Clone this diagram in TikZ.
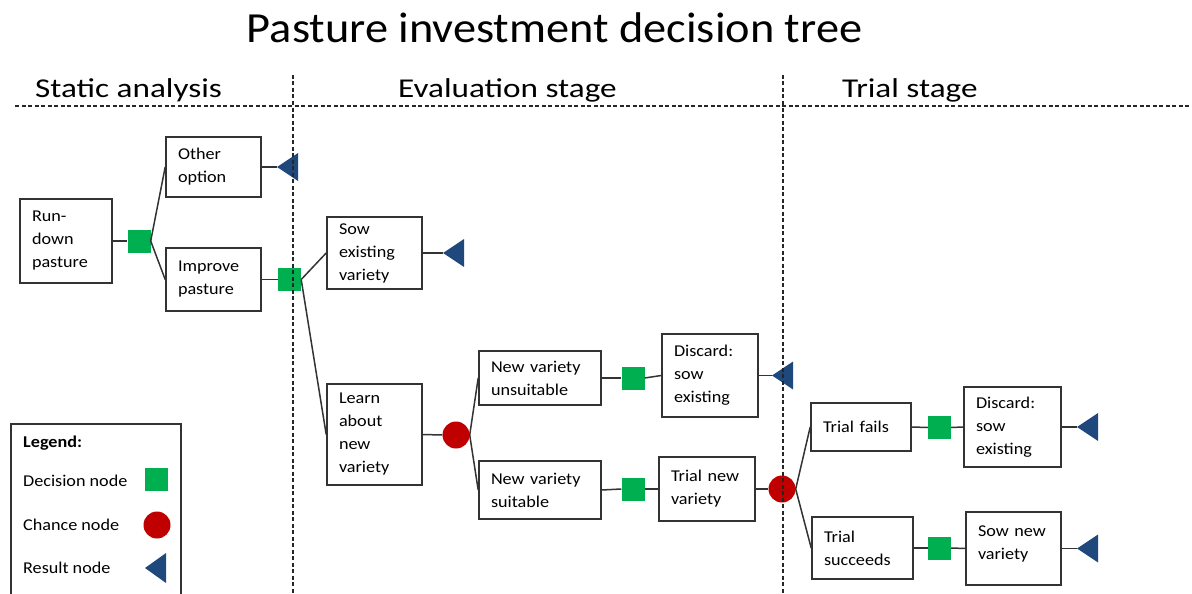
\documentclass[tikz,border=0pt]{standalone}
\usepackage{fontspec}
\setmainfont{Carlito}
\newfontfamily\titlefont[FakeStretch=1.08]{Carlito}
\newfontfamily\stagefont[FakeStretch=1.22]{Carlito}
\newfontfamily\boxfont[FakeStretch=1.1]{Carlito}
\definecolor{dgreen}{HTML}{00B050}
\definecolor{dred}{HTML}{C00000}
\definecolor{dblue}{HTML}{1F497D}
\definecolor{edge}{HTML}{333333}
\begin{document}
\begin{tikzpicture}[x=1pt,y=-1pt,
  box/.style={draw=edge, line width=1.6pt, fill=white, align=left, inner xsep=12pt, inner ysep=2pt,
    font=\boxfont\fontsize{16.5}{23}\selectfont},
  dec/.style={fill=dgreen, minimum size=23pt, inner sep=0pt},
  chance/.style={circle, fill=dred, minimum size=27pt, inner sep=0pt},
  conn/.style={draw=edge, line width=1.5pt},
  stagesep/.style={draw=black!85, line width=1.4pt, dash pattern=on 4pt off 2.5pt},
  stagelabel/.style={anchor=base west, inner sep=0pt, font=\stagefont\fontsize{27.2}{30}\selectfont},
  legtext/.style={anchor=west, inner sep=0pt, font=\boxfont\fontsize{16.5}{20}\selectfont},
  resfill/.style={fill=dblue}
]
\useasboundingbox (0,0) rectangle (1192,594);

% title and stage labels
\node[anchor=base, inner sep=0pt, font=\titlefont\fontsize{42.9}{48}\selectfont] (title) at (554.5,43) {Pasture investment decision tree};
\node[stagelabel] (s1) at (35,97) {Static analysis};
\node[stagelabel] (s2) at (398,97) {Evaluation stage};
\node[stagelabel] (s3) at (842,97) {Trial stage};

% boxes
\node[box, text width=68pt, minimum height=84pt] (rundown) at (66,241) {Run-\\down\\pasture};
\node[box, text width=71pt, minimum height=60pt] (other) at (213.5,167) {Other\\option};
\node[box, text width=71pt, minimum height=63pt] (improve) at (213.5,279.5) {Improve\\pasture};
\node[box, text width=71pt, minimum height=72pt] (sow) at (374.5,253) {Sow\\existing\\variety};
\node[box, text width=71pt, minimum height=101pt] (learn) at (374.5,434.5) {Learn\\about\\new\\variety};
\node[box, text width=98pt, minimum height=54pt] (unsuit) at (540,378) {New variety\\unsuitable};
\node[box, text width=98pt, minimum height=58pt] (suit) at (540,490) {New variety\\suitable};
\node[box, text width=72pt, minimum height=83pt] (discardA) at (710,375.5) {Discard:\\sow\\existing};
\node[box, text width=72pt, minimum height=64pt] (trialnew) at (707,489) {Trial new\\variety};
\node[box, text width=76pt, minimum height=48pt] (fails) at (861,427) {Trial fails};
\node[box, text width=77pt, minimum height=62pt] (succeeds) at (862.5,548) {Trial\\succeeds};
\node[box, text width=73pt, minimum height=80pt] (discardB) at (1012.5,427) {Discard:\\sow\\existing};
\node[box, text width=71pt, minimum height=73pt, text depth=34pt] (sownew) at (1013.5,548.5) {Sow new\\variety};

% decision nodes
\node[dec] (d1) at (139,241) {};
\node[dec] (d2) at (289.5,279.5) {};
\node[dec] (d3) at (633,378) {};
\node[dec] (d4) at (633,489) {};
\node[dec] (d5) at (939.5,427.5) {};
\node[dec] (d6) at (939.5,548) {};

% chance nodes
\node[chance] (c1) at (456,435) {};
\node[chance] (c2) at (782,489) {};

% result nodes (tips)
\coordinate (t1) at (277,167);
\coordinate (t2) at (443,253);
\coordinate (t3) at (772,375.5);
\coordinate (t4) at (1077,427);
\coordinate (t5) at (1077,548.5);
\foreach \t in {t1,t2,t3,t4,t5}
  \fill[resfill] (\t) -- ++(21,-14) -- ++(0,28) -- cycle;

% connectors
\draw[conn] (rundown.east) -- (d1.west);
\draw[conn] (d1.east) -- (other.west);
\draw[conn] (d1.east) -- (improve.west);
\draw[conn] (other.east) -- (t1);
\draw[conn] (improve.east) -- (d2.west);
\draw[conn] (d2.east) -- (sow.west);
\draw[conn] (d2.east) -- (learn.west);
\draw[conn] (sow.east) -- (t2);
\draw[conn] (learn.east) -- (c1.west);
\draw[conn] (c1.east) -- (unsuit.west);
\draw[conn] (c1.east) -- (suit.west);
\draw[conn] (unsuit.east) -- (d3.west);
\draw[conn] (d3.east) -- (discardA.west);
\draw[conn] (discardA.east) -- (t3);
\draw[conn] (suit.east) -- (d4.west);
\draw[conn] (d4.east) -- (trialnew.west);
\draw[conn] (trialnew.east) -- (c2.west);
\draw[conn] (c2.east) -- (fails.west);
\draw[conn] (c2.east) -- (succeeds.west);
\draw[conn] (fails.east) -- (d5.west);
\draw[conn] (d5.east) -- (discardB.west);
\draw[conn] (discardB.east) -- (t4);
\draw[conn] (succeeds.east) -- (d6.west);
\draw[conn] (d6.east) -- (sownew.west);
\draw[conn] (sownew.east) -- (t5);

% legend
\node[draw=edge, line width=1.6pt, anchor=north west, minimum width=170pt, minimum height=190pt, inner sep=0pt] (legend) at (10,423) {};
\node[legtext, font=\boxfont\bfseries\fontsize{16.5}{20}\selectfont] (lgtitle) at (23,443) {Legend:};
\node[legtext] (lgdec) at (23,481) {Decision node};
\node[legtext] (lgch) at (23,525) {Chance node};
\node[legtext] (lgres) at (23,568) {Result node};
\node[dec] (lgdecsym) at (156,479) {};
\node[chance] (lgchsym) at (157,525) {};
\coordinate (lgressym) at (145,568);
\fill[resfill] (lgressym) -- ++(21,-15) -- ++(0,30) -- cycle;

% stage separators (drawn on top)
\draw[stagesep] (15,106) -- (1192,106);
\draw[stagesep] (293,75) -- (293,594);
\draw[stagesep] (783,75) -- (783,594);
\end{tikzpicture}
\end{document}
